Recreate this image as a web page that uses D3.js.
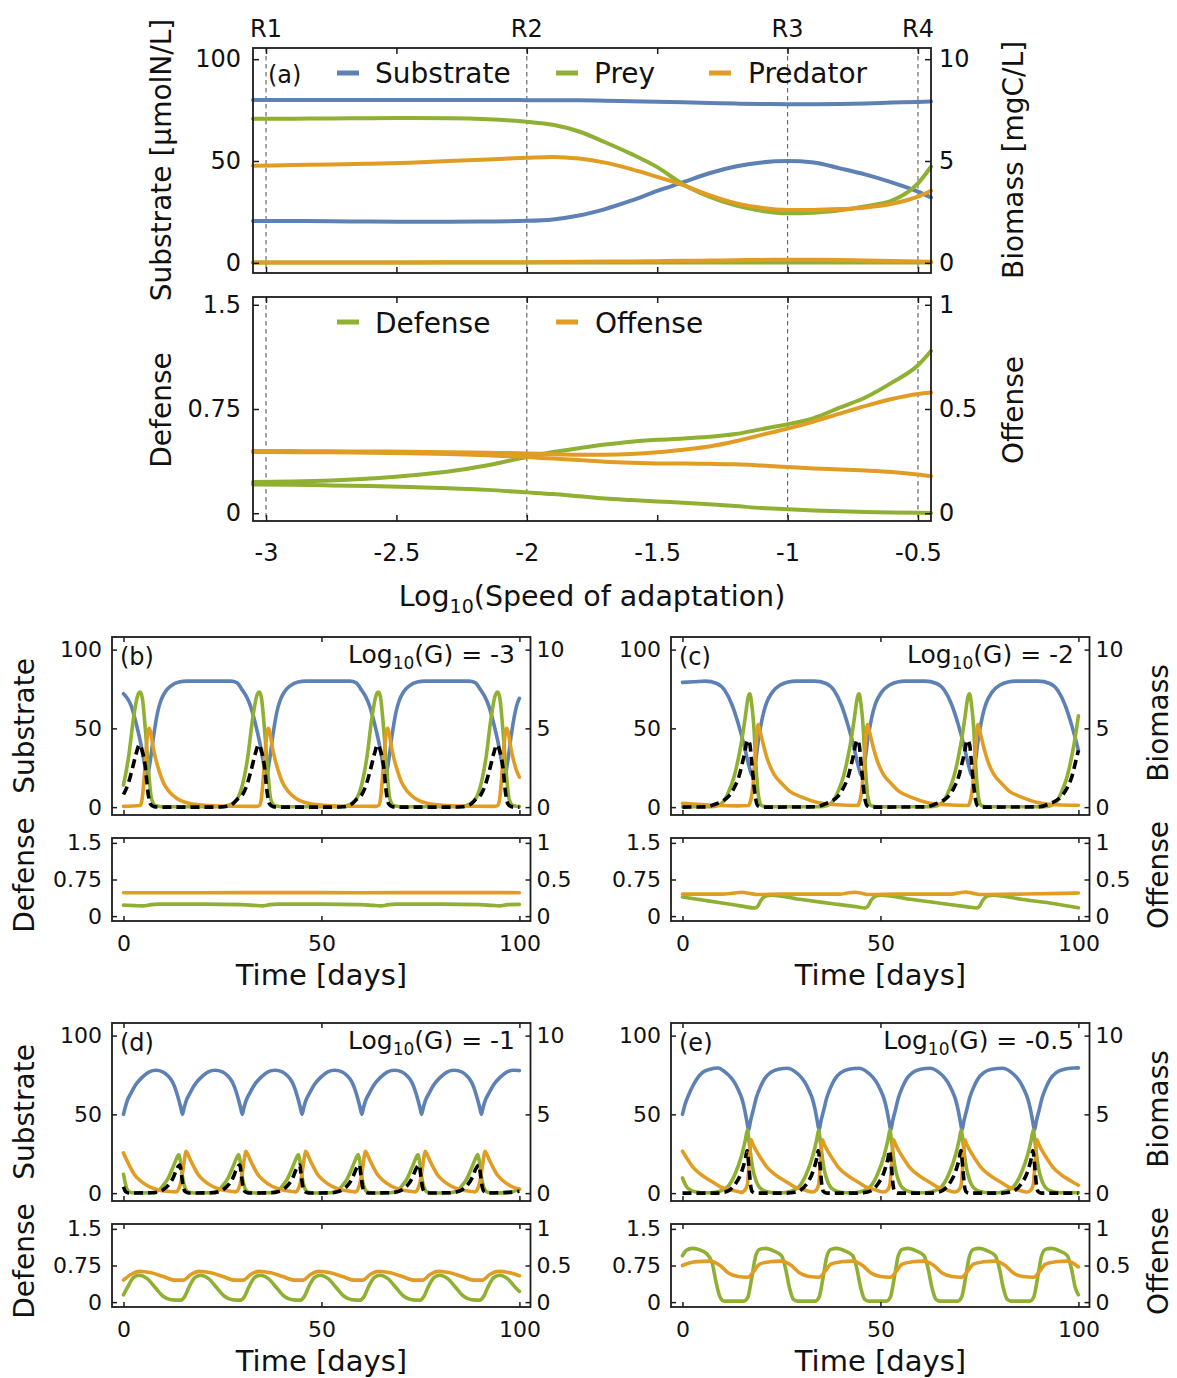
<!DOCTYPE html>
<html>
<head>
<meta charset="utf-8">
<script src="https://cdn.jsdelivr.net/npm/d3@7"></script>
<style>
  body { margin: 0; background: #fff; }
  svg text { font-family: "DejaVu Sans", Verdana, sans-serif; fill: #111; }
</style>
</head>
<body>
<script>
// ---------- Panel (a): bifurcation-style summary vs. log10 speed of adaptation ----------
const speedLog = [-3.05,-2.9,-2.75,-2.6,-2.45,-2.3,-2.15,-2.0,-1.9,-1.8,-1.7,-1.6,-1.5,-1.4,-1.3,-1.2,-1.1,-1.0,-0.9,-0.8,-0.7,-0.6,-0.5,-0.45];
const substrateMax = [80.0,80.0,80.0,80.0,80.0,80.0,80.0,79.9,79.9,79.8,79.6,79.4,79.1,78.8,78.5,78.2,78.0,77.9,77.9,78.0,78.3,78.7,79.0,79.2];
const substrateMin = [20.5,20.5,20.4,20.3,20.2,20.2,20.3,20.6,21.3,23.2,26.4,30.5,35.3,39.6,44.0,47.3,49.3,50.0,49.3,46.4,43.3,39.5,35.0,32.1];
const preyMax = [7.07,7.08,7.09,7.10,7.11,7.10,7.05,6.93,6.78,6.45,5.92,5.35,4.70,3.85,3.25,2.82,2.55,2.43,2.46,2.58,2.78,3.05,3.90,4.72];
const preyMin = [0.01,0.01,0.01,0.01,0.01,0.01,0.01,0.01,0.01,0.01,0.01,0.01,0.01,0.01,0.01,0.01,0.01,0.01,0.01,0.01,0.01,0.01,0.01,0.01];
const predatorMax = [4.77,4.80,4.83,4.87,4.92,5.00,5.08,5.16,5.20,5.12,4.92,4.60,4.22,3.82,3.32,2.93,2.70,2.60,2.60,2.64,2.72,2.90,3.25,3.54];
const predatorMin = [0.02,0.02,0.02,0.02,0.02,0.03,0.03,0.03,0.04,0.05,0.06,0.07,0.08,0.10,0.11,0.13,0.14,0.15,0.15,0.14,0.12,0.09,0.06,0.05];
const defenseMax = [0.224,0.228,0.236,0.250,0.272,0.300,0.345,0.405,0.440,0.468,0.494,0.515,0.528,0.537,0.550,0.570,0.605,0.640,0.685,0.760,0.835,0.940,1.065,1.168];
const defenseMin = [0.207,0.205,0.200,0.195,0.188,0.180,0.168,0.150,0.138,0.122,0.106,0.095,0.085,0.076,0.065,0.052,0.037,0.029,0.020,0.014,0.009,0.006,0.003,0.002];
const offenseMax = [0.298,0.298,0.297,0.296,0.295,0.293,0.290,0.287,0.283,0.281,0.281,0.284,0.292,0.305,0.320,0.345,0.376,0.406,0.440,0.478,0.515,0.548,0.572,0.579];
const offenseMin = [0.294,0.293,0.292,0.290,0.288,0.284,0.278,0.270,0.262,0.255,0.247,0.242,0.239,0.238,0.237,0.235,0.229,0.222,0.215,0.210,0.205,0.198,0.186,0.178];

const regimeLabels = ["R1","R2","R3","R4"];
const regimeSpeeds = [-3,-2,-1,-0.5];
const speedTicks = [-3,-2.5,-2,-1.5,-1,-0.5];

// ---------- Panels (b)-(e): time series, [day, value] ----------
const bSubstrate = [[0,72],[1,69],[2,64],[2.7,58],[3.5,50],[4.4,40],[5.2,29],[6.0,20],[6.8,30],[7.6,45],[8.6,60],[9.5,68],[10.5,73],[12,77],[14,79.5],[16,80],[27.1,80],[28.6,79],[30.1,74],[31.1,70],[32.1,64],[32.8,58],[33.6,50],[34.5,40],[35.3,29],[36.1,20],[36.9,30],[37.7,45],[38.7,60],[39.6,68],[40.6,73],[42.1,77],[44.1,79.5],[46.1,80],[57.2,80],[58.7,79],[60.2,74],[61.2,70],[62.2,64],[62.9,58],[63.7,50],[64.6,40],[65.4,29],[66.2,20],[67.0,30],[67.8,45],[68.8,60],[69.7,68],[70.7,73],[72.2,77],[74.2,79.5],[76.2,80],[87.3,80],[88.8,79],[90.3,74],[91.3,70],[92.3,64],[93.0,58],[93.8,50],[94.7,40],[95.5,29],[96.3,20],[97.1,30],[97.9,45],[98.9,60],[99.8,68],[100,69]];
const bPrey = [[0,1.4],[1.3,3.2],[2.5,5.6],[3.6,7.1],[4.2,7.3],[4.7,7.0],[5.5,5.0],[6.3,2.4],[7.1,0.5],[8.2,0.08],[10.2,0.02],[24.3,0.02],[26.3,0.1],[28.0,0.3],[29.7,1.1],[31.4,3.2],[32.6,5.6],[33.7,7.1],[34.3,7.3],[34.8,7.0],[35.6,5.0],[36.4,2.4],[37.2,0.5],[38.3,0.08],[40.3,0.02],[54.4,0.02],[56.4,0.1],[58.1,0.3],[59.8,1.1],[61.5,3.2],[62.7,5.6],[63.8,7.1],[64.4,7.3],[64.9,7.0],[65.7,5.0],[66.5,2.4],[67.3,0.5],[68.4,0.08],[70.4,0.02],[84.5,0.02],[86.5,0.1],[88.2,0.3],[89.9,1.1],[91.6,3.2],[92.8,5.6],[93.9,7.1],[94.5,7.3],[95.0,7.0],[95.8,5.0],[96.6,2.4],[97.4,0.5],[98.5,0.08],[100,0.03]];
const bPredator = [[0,0.05],[4.2,0.1],[4.7,0.5],[5.2,1.8],[5.7,3.6],[6.2,4.8],[6.5,5.0],[6.9,4.7],[7.5,3.8],[8.2,3.0],[9.0,2.3],[10.0,1.6],[11.5,1.0],[13.5,0.55],[16.5,0.25],[21.5,0.1],[26.5,0.06],[33.6,0.05],[34.3,0.1],[34.8,0.5],[35.3,1.8],[35.8,3.6],[36.3,4.8],[36.6,5.0],[37.0,4.7],[37.6,3.8],[38.3,3.0],[39.1,2.3],[40.1,1.6],[41.6,1.0],[43.6,0.55],[46.6,0.25],[51.6,0.1],[56.6,0.06],[63.7,0.05],[64.4,0.1],[64.9,0.5],[65.4,1.8],[65.9,3.6],[66.4,4.8],[66.7,5.0],[67.1,4.7],[67.7,3.8],[68.4,3.0],[69.2,2.3],[70.2,1.6],[71.7,1.0],[73.7,0.55],[76.7,0.25],[81.7,0.1],[86.7,0.06],[93.8,0.05],[94.5,0.1],[95.0,0.5],[95.5,1.8],[96.0,3.6],[96.5,4.8],[96.8,5.0],[97.2,4.7],[97.8,3.8],[98.5,3.0],[99.3,2.3],[100,1.9]];
const bDashed = [[0,0.8],[1.2,1.5],[2.2,2.4],[3.2,3.4],[4.0,3.95],[4.7,3.6],[5.5,2.6],[6.2,0.9],[6.8,0.2],[7.7,0.03],[9.2,0],[22.3,0],[25.3,0.02],[27.3,0.15],[28.8,0.5],[30.1,0.8],[31.3,1.5],[32.3,2.4],[33.3,3.4],[34.1,3.95],[34.8,3.6],[35.6,2.6],[36.3,0.9],[36.9,0.2],[37.8,0.03],[39.3,0],[52.4,0],[55.4,0.02],[57.4,0.15],[58.9,0.5],[60.2,0.8],[61.4,1.5],[62.4,2.4],[63.4,3.4],[64.2,3.95],[64.9,3.6],[65.7,2.6],[66.4,0.9],[67.0,0.2],[67.9,0.03],[69.4,0],[82.5,0],[85.5,0.02],[87.5,0.15],[89.0,0.5],[90.3,0.8],[91.5,1.5],[92.5,2.4],[93.5,3.4],[94.3,3.95],[95.0,3.6],[95.8,2.6],[96.5,0.9],[97.1,0.2],[98.0,0.03],[99.5,0],[100,0]];
const bDefense = [[0,0.225],[3,0.215],[5,0.21],[7,0.235],[9,0.245],[20,0.245],[30,0.235],[33,0.22],[35,0.21],[37,0.235],[39,0.245],[50,0.245],[60,0.235],[63,0.22],[65,0.21],[67,0.235],[69,0.245],[80,0.245],[90,0.235],[93,0.22],[95,0.21],[97,0.235],[100,0.24]];
const bOffense = [[0,0.32],[20,0.32],[40,0.321],[60,0.32],[80,0.321],[100,0.32]];

const cSubstrate = [[0,79.2],[3,79.6],[5.7,80],[8.7,78.5],[10.7,74],[12.5,65],[14.2,52],[15.7,38],[16.7,27],[17.7,20],[18.4,28],[19.2,43],[20.2,57],[21.2,66],[22.7,73],[24.7,77.5],[26.7,79.5],[28.7,80],[33.3,80],[36.3,78.5],[38.3,74],[40.1,65],[41.8,52],[43.3,38],[44.3,27],[45.3,20],[46.0,28],[46.8,43],[47.8,57],[48.8,66],[50.3,73],[52.3,77.5],[54.3,79.5],[56.3,80],[61.2,80],[64.2,78.5],[66.2,74],[68.0,65],[69.7,52],[71.2,38],[72.2,27],[73.2,20],[73.9,28],[74.7,43],[75.7,57],[76.7,66],[78.2,73],[80.2,77.5],[82.2,79.5],[84.2,80],[89.8,80],[92.8,78.5],[94.8,74],[96.6,65],[98.3,52],[99.8,38],[100,36]];
const cPrey = [[0,0.02],[7.0,0.02],[9.0,0.1],[10.5,0.4],[11.7,1.0],[13.0,1.9],[14.2,3.2],[15.2,4.6],[15.9,5.8],[16.6,7.0],[17.0,7.2],[17.5,6.5],[18.0,5.2],[18.5,2.9],[19.2,0.7],[20.0,0.1],[21.5,0.02],[34.6,0.02],[36.6,0.1],[38.1,0.4],[39.3,1.0],[40.6,1.9],[41.8,3.2],[42.8,4.6],[43.5,5.8],[44.2,7.0],[44.6,7.2],[45.1,6.5],[45.6,5.2],[46.1,2.9],[46.8,0.7],[47.6,0.1],[49.1,0.02],[62.5,0.02],[64.5,0.1],[66.0,0.4],[67.2,1.0],[68.5,1.9],[69.7,3.2],[70.7,4.6],[71.4,5.8],[72.1,7.0],[72.5,7.2],[73.0,6.5],[73.5,5.2],[74.0,2.9],[74.7,0.7],[75.5,0.1],[77.0,0.02],[91.1,0.02],[93.1,0.1],[94.6,0.4],[95.8,1.0],[97.1,1.9],[98.3,3.2],[99.3,4.6],[100,5.8]];
const cPredator = [[0,0.25],[8,0.12],[14,0.08],[16.6,0.1],[17.3,0.5],[17.9,1.6],[18.5,3.6],[18.9,5.0],[19.1,5.25],[19.5,4.9],[20.1,4.3],[20.8,3.6],[21.8,2.8],[23.1,2.1],[25.1,1.5],[27.1,1.0],[30.1,0.64],[34.1,0.3],[39.1,0.15],[44.2,0.1],[44.9,0.5],[45.5,1.6],[46.1,3.6],[46.5,5.0],[46.7,5.25],[47.1,4.9],[47.7,4.3],[48.4,3.6],[49.4,2.8],[50.7,2.1],[52.7,1.5],[54.7,1.0],[57.7,0.64],[61.7,0.3],[66.7,0.15],[72.1,0.1],[72.8,0.5],[73.4,1.6],[74.0,3.6],[74.4,5.0],[74.6,5.25],[75.0,4.9],[75.6,4.3],[76.3,3.6],[77.3,2.8],[78.6,2.1],[80.6,1.5],[82.6,1.0],[85.6,0.64],[89.6,0.3],[94.6,0.15],[100,0.12]];
const cDashed = [[0,0],[6.0,0.02],[8.4,0.2],[10.2,0.4],[11.7,0.7],[13.0,1.2],[14.2,1.9],[15.5,3.2],[16.5,4.25],[17.0,4.0],[17.5,2.8],[18.0,1.5],[18.5,0.5],[19.0,0.1],[20.0,0],[33.6,0.02],[36.0,0.2],[37.8,0.4],[39.3,0.7],[40.6,1.2],[41.8,1.9],[43.1,3.2],[44.1,4.25],[44.6,4.0],[45.1,2.8],[45.6,1.5],[46.1,0.5],[46.6,0.1],[47.6,0],[61.5,0.02],[63.9,0.2],[65.7,0.4],[67.2,0.7],[68.5,1.2],[69.7,1.9],[71.0,3.2],[72.0,4.25],[72.5,4.0],[73.0,2.8],[73.5,1.5],[74.0,0.5],[74.5,0.1],[75.5,0],[90.1,0.02],[92.5,0.2],[94.3,0.4],[95.8,0.7],[97.1,1.2],[98.3,1.9],[99.6,3.2],[100,3.6]];
const cDefense = [[0,0.39],[5,0.33],[10,0.27],[15,0.205],[18.3,0.165],[19,0.2],[19.8,0.32],[21,0.41],[22.5,0.43],[30,0.34],[38,0.255],[44,0.19],[46,0.165],[46.8,0.2],[47.6,0.32],[48.8,0.41],[50.3,0.43],[58,0.34],[66,0.255],[72,0.19],[74.3,0.165],[75,0.2],[75.8,0.32],[77,0.41],[78.5,0.43],[86,0.34],[94,0.255],[100,0.17]];
const cOffense = [[0,0.3],[10,0.3],[13,0.315],[15,0.325],[17,0.31],[19,0.295],[25,0.3],[40,0.3],[42,0.32],[43.5,0.325],[45.5,0.31],[47,0.295],[55,0.3],[68,0.3],[70,0.32],[71.5,0.33],[73.5,0.31],[75,0.295],[85,0.3],[96,0.31],[100,0.315]];

const dSubstrate = [[0,50],[0.4,54],[1,59],[1.9,63.5],[3,68.5],[4.7,73.5],[6.5,77],[8.2,78],[9.9,77],[11.2,74.5],[12.4,70.5],[13.0,67],[13.7,61.5],[14.4,55],[14.9,50],[15.3,54],[15.9,59],[16.8,63.5],[17.9,68.5],[19.6,73.5],[21.4,77],[23.1,78],[25.0,77],[26.3,74.5],[27.5,70.5],[28.1,67],[28.8,61.5],[29.5,55],[30.0,50],[30.4,54],[31.0,59],[31.9,63.5],[33.0,68.5],[34.7,73.5],[36.5,77],[38.2,78],[40.1,77],[41.4,74.5],[42.6,70.5],[43.2,67],[43.9,61.5],[44.6,55],[45.1,50],[45.5,54],[46.1,59],[47.0,63.5],[48.1,68.5],[49.8,73.5],[51.6,77],[53.3,78],[55.2,77],[56.5,74.5],[57.7,70.5],[58.3,67],[59.0,61.5],[59.7,55],[60.2,50],[60.6,54],[61.2,59],[62.1,63.5],[63.2,68.5],[64.9,73.5],[66.7,77],[68.4,78],[70.3,77],[71.6,74.5],[72.8,70.5],[73.4,67],[74.1,61.5],[74.8,55],[75.3,50],[75.7,54],[76.3,59],[77.2,63.5],[78.3,68.5],[80.0,73.5],[81.8,77],[83.5,78],[85.4,77],[86.7,74.5],[87.9,70.5],[88.5,67],[89.2,61.5],[89.9,55],[90.4,50],[90.8,54],[91.4,59],[92.3,63.5],[93.4,68.5],[95.1,73.5],[96.9,77],[98.6,78],[100,77.8]];
const dPrey = [[0,1.2],[0.4,0.7],[0.8,0.3],[1.5,0.07],[3,0.01],[7.0,0.02],[9.0,0.2],[10.2,0.55],[11.2,0.9],[12.1,1.4],[13.0,1.95],[13.6,2.3],[14.0,2.45],[14.4,2.0],[14.7,1.4],[15.0,0.9],[15.3,0.53],[15.8,0.2],[16.5,0.05],[18.0,0.01],[22.1,0.02],[24.1,0.2],[25.3,0.55],[26.3,0.9],[27.2,1.4],[28.1,1.95],[28.7,2.3],[29.1,2.45],[29.5,2.0],[29.8,1.4],[30.1,0.9],[30.4,0.53],[30.9,0.2],[31.6,0.05],[33.1,0.01],[37.2,0.02],[39.2,0.2],[40.4,0.55],[41.4,0.9],[42.3,1.4],[43.2,1.95],[43.8,2.3],[44.2,2.45],[44.6,2.0],[44.9,1.4],[45.2,0.9],[45.5,0.53],[46.0,0.2],[46.7,0.05],[48.2,0.01],[52.3,0.02],[54.3,0.2],[55.5,0.55],[56.5,0.9],[57.4,1.4],[58.3,1.95],[58.9,2.3],[59.3,2.45],[59.7,2.0],[60.0,1.4],[60.3,0.9],[60.6,0.53],[61.1,0.2],[61.8,0.05],[63.3,0.01],[67.4,0.02],[69.4,0.2],[70.6,0.55],[71.6,0.9],[72.5,1.4],[73.4,1.95],[74.0,2.3],[74.4,2.45],[74.8,2.0],[75.1,1.4],[75.4,0.9],[75.7,0.53],[76.2,0.2],[76.9,0.05],[78.4,0.01],[82.5,0.02],[84.5,0.2],[85.7,0.55],[86.7,0.9],[87.6,1.4],[88.5,1.95],[89.1,2.3],[89.5,2.45],[89.9,2.0],[90.2,1.4],[90.5,0.9],[90.8,0.53],[91.3,0.2],[92.0,0.05],[93.5,0.01],[97.5,0.05],[100,0.25]];
const dPredator = [[0,2.55],[0.9,2.05],[1.7,1.65],[2.7,1.2],[4.2,0.8],[6.2,0.45],[8.7,0.22],[11.7,0.1],[13.3,0.08],[14.0,0.3],[14.5,0.7],[15.1,1.6],[15.5,2.3],[15.8,2.65],[16.3,2.45],[17.0,2.05],[17.8,1.65],[18.8,1.2],[20.3,0.8],[22.3,0.45],[24.8,0.22],[27.8,0.1],[28.4,0.08],[29.1,0.3],[29.6,0.7],[30.2,1.6],[30.6,2.3],[30.9,2.65],[31.4,2.45],[32.1,2.05],[32.9,1.65],[33.9,1.2],[35.4,0.8],[37.4,0.45],[39.9,0.22],[42.9,0.1],[43.5,0.08],[44.2,0.3],[44.7,0.7],[45.3,1.6],[45.7,2.3],[46.0,2.65],[46.5,2.45],[47.2,2.05],[48.0,1.65],[49.0,1.2],[50.5,0.8],[52.5,0.45],[55.0,0.22],[58.0,0.1],[58.6,0.08],[59.3,0.3],[59.8,0.7],[60.4,1.6],[60.8,2.3],[61.1,2.65],[61.6,2.45],[62.3,2.05],[63.1,1.65],[64.1,1.2],[65.6,0.8],[67.6,0.45],[70.1,0.22],[73.1,0.1],[73.7,0.08],[74.4,0.3],[74.9,0.7],[75.5,1.6],[75.9,2.3],[76.2,2.65],[76.7,2.45],[77.4,2.05],[78.2,1.65],[79.2,1.2],[80.7,0.8],[82.7,0.45],[85.2,0.22],[88.2,0.1],[88.8,0.08],[89.5,0.3],[90.0,0.7],[90.6,1.6],[91.0,2.3],[91.3,2.65],[91.8,2.45],[92.5,2.05],[93.3,1.65],[94.3,1.2],[95.8,0.8],[97.8,0.45],[100,0.25]];
const dDashed = [[0,0.4],[0.5,0.1],[1.4,0.01],[7.0,0.02],[9.0,0.1],[10.2,0.25],[11.5,0.55],[12.6,1.0],[13.4,1.5],[14.0,1.75],[14.3,1.78],[14.7,1.1],[15.1,0.4],[15.6,0.1],[16.5,0.01],[22.1,0.02],[24.1,0.1],[25.3,0.25],[26.6,0.55],[27.7,1.0],[28.5,1.5],[29.1,1.75],[29.4,1.78],[29.8,1.1],[30.2,0.4],[30.7,0.1],[31.6,0.01],[37.2,0.02],[39.2,0.1],[40.4,0.25],[41.7,0.55],[42.8,1.0],[43.6,1.5],[44.2,1.75],[44.5,1.78],[44.9,1.1],[45.3,0.4],[45.8,0.1],[46.7,0.01],[52.3,0.02],[54.3,0.1],[55.5,0.25],[56.8,0.55],[57.9,1.0],[58.7,1.5],[59.3,1.75],[59.6,1.78],[60.0,1.1],[60.4,0.4],[60.9,0.1],[61.8,0.01],[67.4,0.02],[69.4,0.1],[70.6,0.25],[71.9,0.55],[73.0,1.0],[73.8,1.5],[74.4,1.75],[74.7,1.78],[75.1,1.1],[75.5,0.4],[76.0,0.1],[76.9,0.01],[82.5,0.02],[84.5,0.1],[85.7,0.25],[87.0,0.55],[88.1,1.0],[88.9,1.5],[89.5,1.75],[89.8,1.78],[90.2,1.1],[90.6,0.4],[91.1,0.1],[92.0,0.01],[97.5,0.05],[100,0.12]];
const dDefense = [[0,0.15],[1,0.3],[2.5,0.5],[4,0.55],[6,0.48],[8,0.3],[10,0.12],[12,0.05],[14.5,0.04],[15.5,0.12],[16.5,0.3],[18,0.5],[19.5,0.55],[21.5,0.48],[23.5,0.3],[25.5,0.12],[27.5,0.05],[29.6,0.04],[30.6,0.12],[31.6,0.3],[33.1,0.5],[34.6,0.55],[36.6,0.48],[38.6,0.3],[40.6,0.12],[42.6,0.05],[44.7,0.04],[45.7,0.12],[46.7,0.3],[48.2,0.5],[49.7,0.55],[51.7,0.48],[53.7,0.3],[55.7,0.12],[57.7,0.05],[59.8,0.04],[60.8,0.12],[61.8,0.3],[63.3,0.5],[64.8,0.55],[66.8,0.48],[68.8,0.3],[70.8,0.12],[72.8,0.05],[74.9,0.04],[75.9,0.12],[76.9,0.3],[78.4,0.5],[79.9,0.55],[81.9,0.48],[83.9,0.3],[85.9,0.12],[87.9,0.05],[90,0.04],[91,0.12],[92,0.3],[93.5,0.5],[95,0.55],[97,0.48],[99,0.3],[100,0.22]];
const dOffense = [[0,0.3],[2,0.38],[4,0.42],[7,0.4],[10,0.35],[13,0.3],[15.1,0.3],[17.1,0.38],[19.1,0.42],[22.1,0.4],[25.1,0.35],[28.1,0.3],[30.2,0.3],[32.2,0.38],[34.2,0.42],[37.2,0.4],[40.2,0.35],[43.2,0.3],[45.3,0.3],[47.3,0.38],[49.3,0.42],[52.3,0.4],[55.3,0.35],[58.3,0.3],[60.4,0.3],[62.4,0.38],[64.4,0.42],[67.4,0.4],[70.4,0.35],[73.4,0.3],[75.5,0.3],[77.5,0.38],[79.5,0.42],[82.5,0.4],[85.5,0.35],[88.5,0.3],[90.6,0.3],[92.6,0.38],[94.6,0.42],[97.6,0.4],[100,0.36]];

const eSubstrate = [[0,50],[0.6,56],[1.5,62],[2.5,67.5],[3.5,72],[5,76.5],[7,78.7],[9,79.4],[10.7,77],[12.2,73.5],[13.2,70],[14.2,65],[15.0,60],[15.7,53],[16.3,45],[16.7,40],[17.2,46],[17.8,52],[18.7,61],[19.6,67],[20.7,72.5],[22.2,76.5],[24.2,78.7],[26.5,79.3],[28.5,77],[30.0,73.5],[31.0,70],[32.0,65],[32.8,60],[33.5,53],[34.1,45],[34.5,40],[35.0,46],[35.6,52],[36.5,61],[37.4,67],[38.5,72.5],[40.0,76.5],[42.0,78.7],[44.6,79.3],[46.6,77],[48.1,73.5],[49.1,70],[50.1,65],[50.9,60],[51.6,53],[52.2,45],[52.6,40],[53.1,46],[53.7,52],[54.6,61],[55.5,67],[56.6,72.5],[58.1,76.5],[60.1,78.7],[62.6,79.3],[64.6,77],[66.1,73.5],[67.1,70],[68.1,65],[68.9,60],[69.6,53],[70.2,45],[70.6,40],[71.1,46],[71.7,52],[72.6,61],[73.5,67],[74.6,72.5],[76.1,76.5],[78.1,78.7],[80.9,79.3],[82.9,77],[84.4,73.5],[85.4,70],[86.4,65],[87.2,60],[87.9,53],[88.5,45],[88.9,40],[89.4,46],[90.0,52],[90.9,61],[91.8,67],[92.9,72.5],[94.4,76.5],[96.4,78.7],[98.9,79.4],[100,79.5]];
const ePrey = [[0,0.96],[0.6,0.6],[1.3,0.32],[3.1,0.08],[5.1,0.02],[7.4,0.02],[9.4,0.12],[11.4,0.4],[13.2,1.17],[15.0,2.45],[15.9,3.4],[16.4,4.0],[16.8,3.3],[17.3,2.3],[17.8,1.5],[18.3,1.0],[18.9,0.6],[19.6,0.32],[21.4,0.08],[23.4,0.02],[25.4,0.02],[27.4,0.12],[29.4,0.4],[31.2,1.17],[33.0,2.45],[33.9,3.4],[34.4,4.0],[34.8,3.3],[35.3,2.3],[35.8,1.5],[36.3,1.0],[36.9,0.6],[37.6,0.32],[39.4,0.08],[41.4,0.02],[43.4,0.02],[45.4,0.12],[47.4,0.4],[49.2,1.17],[51.0,2.45],[51.9,3.4],[52.4,4.0],[52.8,3.3],[53.3,2.3],[53.8,1.5],[54.3,1.0],[54.9,0.6],[55.6,0.32],[57.4,0.08],[59.4,0.02],[61.4,0.02],[63.4,0.12],[65.4,0.4],[67.2,1.17],[69.0,2.45],[69.9,3.4],[70.4,4.0],[70.8,3.3],[71.3,2.3],[71.8,1.5],[72.3,1.0],[72.9,0.6],[73.6,0.32],[75.4,0.08],[77.4,0.02],[79.6,0.02],[81.6,0.12],[83.6,0.4],[85.4,1.17],[87.2,2.45],[88.1,3.4],[88.6,4.0],[89.0,3.3],[89.5,2.3],[90.0,1.5],[90.5,1.0],[91.1,0.6],[91.8,0.32],[93.6,0.08],[95.6,0.02],[100,0.03]];
const ePredator = [[0,2.66],[1.4,2.1],[2.8,1.6],[5.1,1.1],[7.4,0.74],[9.6,0.4],[12.1,0.2],[14.1,0.1],[14.8,0.05],[15.8,0.2],[16.4,0.55],[16.85,2.0],[17.3,3.4],[17.7,3.15],[18.7,2.66],[20.1,2.1],[21.5,1.6],[23.8,1.1],[26.1,0.74],[28.3,0.4],[30.8,0.2],[32.8,0.07],[33.8,0.2],[34.4,0.55],[34.85,2.0],[35.3,3.4],[35.7,3.15],[36.7,2.66],[38.1,2.1],[39.5,1.6],[41.8,1.1],[44.1,0.74],[46.3,0.4],[48.8,0.2],[50.8,0.07],[51.8,0.2],[52.4,0.55],[52.85,2.0],[53.3,3.4],[53.7,3.15],[54.7,2.66],[56.1,2.1],[57.5,1.6],[59.8,1.1],[62.1,0.74],[64.3,0.4],[66.8,0.2],[68.8,0.07],[69.8,0.2],[70.4,0.55],[70.85,2.0],[71.3,3.4],[71.7,3.15],[72.7,2.66],[74.1,2.1],[75.5,1.6],[77.8,1.1],[80.1,0.74],[82.3,0.4],[84.8,0.2],[87.0,0.07],[88.0,0.2],[88.6,0.55],[89.05,2.0],[89.5,3.4],[89.9,3.15],[90.9,2.66],[92.3,2.1],[93.7,1.6],[96.0,1.1],[98.3,0.74],[100,0.5]];
const eDashed = [[0,0],[8.4,0],[10.4,0.05],[11.9,0.2],[13.2,0.53],[15.0,1.4],[15.9,2.2],[16.3,2.7],[16.8,1.6],[17.2,0.5],[17.6,0.1],[18.4,0],[26.4,0],[28.4,0.05],[29.9,0.2],[31.2,0.53],[33.0,1.4],[33.9,2.2],[34.3,2.7],[34.8,1.6],[35.2,0.5],[35.6,0.1],[36.4,0],[44.4,0],[46.4,0.05],[47.9,0.2],[49.2,0.53],[51.0,1.4],[51.9,2.2],[52.3,2.7],[52.8,1.6],[53.2,0.5],[53.6,0.1],[54.4,0],[62.4,0],[64.4,0.05],[65.9,0.2],[67.2,0.53],[69.0,1.4],[69.9,2.2],[70.3,2.7],[70.8,1.6],[71.2,0.5],[71.6,0.1],[72.4,0],[80.6,0],[82.6,0.05],[84.1,0.2],[85.4,0.53],[87.2,1.4],[88.1,2.2],[88.5,2.7],[89.0,1.6],[89.4,0.5],[89.8,0.1],[90.6,0],[100,0]];
const eDefense = [[0,0.95],[1,1.06],[2.5,1.1],[4,1.08],[6,1.0],[7.5,0.8],[8.5,0.4],[9.5,0.1],[10.5,0.02],[15.5,0.02],[16.5,0.1],[17.5,0.5],[18.5,0.95],[19.5,1.08],[21,1.1],[23,1.05],[25,0.95],[26,0.7],[27,0.3],[28,0.06],[29,0.02],[33.5,0.02],[34.5,0.1],[35.5,0.5],[36.5,0.95],[37.5,1.08],[39,1.1],[41,1.05],[43,0.95],[44,0.7],[45,0.3],[46,0.06],[47,0.02],[51.5,0.02],[52.5,0.1],[53.5,0.5],[54.5,0.95],[55.5,1.08],[57,1.1],[59,1.05],[61,0.95],[62,0.7],[63,0.3],[64,0.06],[65,0.02],[69.5,0.02],[70.5,0.1],[71.5,0.5],[72.5,0.95],[73.5,1.08],[75,1.1],[77,1.05],[79,0.95],[80,0.7],[81,0.3],[82,0.06],[83,0.02],[87.7,0.02],[88.7,0.1],[89.7,0.5],[90.7,0.95],[91.7,1.08],[93.2,1.1],[95.2,1.05],[97.2,0.95],[98.2,0.7],[99.2,0.3],[100,0.15]];
const eOffense = [[0,0.5],[3,0.55],[7,0.56],[9.5,0.5],[11.5,0.4],[14,0.35],[16.5,0.34],[18,0.42],[19.5,0.52],[22,0.55],[25,0.56],[27.5,0.5],[29.5,0.4],[32,0.35],[34.5,0.34],[36,0.42],[37.5,0.52],[40,0.55],[43,0.56],[45.5,0.5],[47.5,0.4],[50,0.35],[52.5,0.34],[54,0.42],[55.5,0.52],[58,0.55],[61,0.56],[63.5,0.5],[65.5,0.4],[68,0.35],[70.5,0.34],[72,0.42],[73.5,0.52],[76,0.55],[79,0.56],[81.5,0.5],[83.5,0.4],[86,0.35],[88.7,0.34],[90.2,0.42],[91.7,0.52],[94.2,0.55],[97.2,0.56],[100,0.48]];

const panelTags = ["(b)","(c)","(d)","(e)"];
const panelLogG = ["-3","-2","-1","-0.5"];
const timeTicks = [0,50,100];

// ---------- drawing ----------
const COL_SUB = "#5E81B5", COL_PREY = "#8FB032", COL_PRED = "#E19C24";
const INK = "#1c1c1c";
const svg = d3.select("body").append("svg").attr("width",1177).attr("height",1378);
const fmt = d => String(d);

function styleAxis(sel, fs) {
  sel.attr("font-family", null).attr("font-size", fs);
  sel.select(".domain").remove();
  sel.selectAll(".tick line").attr("stroke", INK).attr("stroke-width", 1.5);
  sel.selectAll(".tick text").attr("fill", "#111");
}

// Framed plot box with inward ticks on all four sides
function framedBox(x, yL, yR, o) {
  const g = svg.append("g");
  const [xa, xb] = x.range();
  const [yb, ya] = yL.range();
  g.append("g").attr("transform", `translate(${xa},0)`)
    .call(d3.axisLeft(yL).tickValues(o.yLTicks).tickSize(-o.tl).tickPadding(o.padL).tickFormat(fmt))
    .call(styleAxis, o.fs);
  g.append("g").attr("transform", `translate(${xb},0)`)
    .call(d3.axisRight(yR).tickValues(o.yRTicks).tickSize(-o.tl).tickPadding(o.padR).tickFormat(fmt))
    .call(styleAxis, o.fs);
  g.append("g").attr("transform", `translate(0,${yb})`)
    .call(d3.axisBottom(x).tickValues(o.xTicks).tickSize(-o.tl).tickPadding(o.padB).tickFormat(o.xLabels ? fmt : () => ""))
    .call(styleAxis, o.fs);
  g.append("g").attr("transform", `translate(0,${ya})`)
    .call(d3.axisTop(x).tickValues(o.xTicks).tickSize(-o.tl).tickFormat(() => ""))
    .call(styleAxis, o.fs);
  g.append("rect").attr("x", xa).attr("y", ya).attr("width", xb - xa).attr("height", yb - ya)
    .attr("fill", "none").attr("stroke", INK).attr("stroke-width", 1.8);
  return g;
}

function drawSeries(g, pts, x, y, color, width, dash) {
  const gen = d3.line().x(d => x(d[0])).y(d => y(d[1])).curve(d3.curveMonotoneX);
  const p = g.append("path").attr("d", gen(pts)).attr("fill", "none")
    .attr("stroke", color).attr("stroke-width", width)
    .attr("stroke-linejoin", "round").attr("stroke-linecap", dash ? "butt" : "round");
  if (dash) p.attr("stroke-dasharray", dash);
}

function rotLabel(x, y, txt, fs) {
  svg.append("text").attr("transform", `translate(${x},${y}) rotate(-90)`)
    .attr("text-anchor", "middle").attr("font-size", fs).text(txt);
}

// ----- Panel (a) -----
(function panelA() {
  const x = d3.scaleLinear([-3.05, -0.45], [253, 931]);
  const yS = d3.scaleLinear([-5, 105.5], [273, 48]);
  const yB = d3.scaleLinear([-0.5, 10.55], [273, 48]);
  const yD = d3.scaleLinear([-0.056, 1.556], [521, 297]);
  const yO = d3.scaleLinear([-0.056 / 1.5, 1.556 / 1.5], [521, 297]);
  const common = {xTicks: speedTicks, tl: 6, padL: 12, padR: 8, padB: 23, fs: 24};

  const plot = svg.append("g");
  // regime marker lines
  regimeSpeeds.forEach(s => {
    [[48, 273], [297, 521]].forEach(([t, b]) => {
      plot.append("line").attr("x1", x(s)).attr("x2", x(s)).attr("y1", t).attr("y2", b)
        .attr("stroke", "#6a6a6a").attr("stroke-width", 1.2).attr("stroke-dasharray", "4.5,3.5");
    });
  });
  const pair = (arr) => speedLog.map((s, i) => [s, arr[i]]);
  drawSeries(plot, pair(substrateMax), x, yS, COL_SUB, 4);
  drawSeries(plot, pair(substrateMin), x, yS, COL_SUB, 4);
  drawSeries(plot, pair(preyMin), x, yB, COL_PREY, 4);
  drawSeries(plot, pair(preyMax), x, yB, COL_PREY, 4);
  drawSeries(plot, pair(predatorMin), x, yB, COL_PRED, 4);
  drawSeries(plot, pair(predatorMax), x, yB, COL_PRED, 4);
  drawSeries(plot, pair(defenseMax), x, yD, COL_PREY, 4);
  drawSeries(plot, pair(defenseMin), x, yD, COL_PREY, 4);
  drawSeries(plot, pair(offenseMax), x, yO, COL_PRED, 4);
  drawSeries(plot, pair(offenseMin), x, yO, COL_PRED, 4);

  framedBox(x, yS, yB, Object.assign({yLTicks: [0, 50, 100], yRTicks: [0, 5, 10], xLabels: false}, common));
  framedBox(x, yD, yO, Object.assign({yLTicks: [0, 0.75, 1.5], yRTicks: [0, 0.5, 1], xLabels: true}, common));

  regimeSpeeds.forEach((s, i) => {
    svg.append("text").attr("x", x(s)).attr("y", 37).attr("text-anchor", "middle")
      .attr("font-size", 24).text(regimeLabels[i]);
  });

  svg.append("text").attr("x", 268).attr("y", 83).attr("font-size", 24).text("(a)");
  const legTop = [["Substrate", COL_SUB, 337, 375], ["Prey", COL_PREY, 556, 594], ["Predator", COL_PRED, 709, 748]];
  legTop.forEach(([t, c, lx, tx]) => {
    svg.append("line").attr("x1", lx).attr("x2", lx + 22).attr("y1", 73).attr("y2", 73)
      .attr("stroke", c).attr("stroke-width", 5);
    svg.append("text").attr("x", tx).attr("y", 83).attr("font-size", 28).text(t);
  });
  const legBot = [["Defense", COL_PREY, 337, 375], ["Offense", COL_PRED, 556, 595]];
  legBot.forEach(([t, c, lx, tx]) => {
    svg.append("line").attr("x1", lx).attr("x2", lx + 22).attr("y1", 322).attr("y2", 322)
      .attr("stroke", c).attr("stroke-width", 5);
    svg.append("text").attr("x", tx).attr("y", 333).attr("font-size", 28).text(t);
  });

  rotLabel(171, 160, "Substrate [μmolN/L]", 28);
  rotLabel(1023, 160, "Biomass [mgC/L]", 28);
  rotLabel(171, 410, "Defense", 28);
  rotLabel(1023, 410, "Offense", 28);

  const xt = svg.append("text").attr("x", 592).attr("y", 606).attr("text-anchor", "middle").attr("font-size", 28.5);
  xt.append("tspan").text("Log");
  xt.append("tspan").attr("font-size", 19).attr("dy", 7).text("10");
  xt.append("tspan").attr("dy", -7).text("(Speed of adaptation)");
})();

// ----- Panels (b)-(e) -----
const panels = [
  {x0: 112, y0: 637, yb: 838, sub: bSubstrate, prey: bPrey, pred: bPredator, dash: bDashed, def: bDefense, off: bOffense, left: true},
  {x0: 671, y0: 637, yb: 838, sub: cSubstrate, prey: cPrey, pred: cPredator, dash: cDashed, def: cDefense, off: cOffense, left: false},
  {x0: 112, y0: 1023, yb: 1224, sub: dSubstrate, prey: dPrey, pred: dPredator, dash: dDashed, def: dDefense, off: dOffense, left: true},
  {x0: 671, y0: 1023, yb: 1224, sub: eSubstrate, prey: ePrey, pred: ePredator, dash: eDashed, def: eDefense, off: eOffense, left: false}
];

panels.forEach((p, i) => {
  const x = d3.scaleLinear([-2.9, 102.8], [p.x0, p.x0 + 418.5]);
  const yS = d3.scaleLinear([-5, 108], [p.y0 + 178, p.y0]);
  const yB = d3.scaleLinear([-0.5, 10.8], [p.y0 + 178, p.y0]);
  const yD = d3.scaleLinear([-0.1, 1.6], [p.yb + 83, p.yb]);
  const yO = d3.scaleLinear([-0.1 / 1.5, 1.6 / 1.5], [p.yb + 83, p.yb]);
  const common = {xTicks: timeTicks, tl: 5, padL: 10, padR: 6, padB: 14, fs: 22};

  const g = svg.append("g");
  drawSeries(g, p.sub, x, yS, COL_SUB, 3.6);
  drawSeries(g, p.prey, x, yB, COL_PREY, 3.6);
  drawSeries(g, p.pred, x, yB, COL_PRED, 3.6);
  drawSeries(g, p.dash, x, yB, "#000", 3.6, "9,5");
  drawSeries(g, p.def, x, yD, COL_PREY, 3.6);
  drawSeries(g, p.off, x, yO, COL_PRED, 3.6);

  framedBox(x, yS, yB, Object.assign({yLTicks: [0, 50, 100], yRTicks: [0, 5, 10], xLabels: false}, common));
  framedBox(x, yD, yO, Object.assign({yLTicks: [0, 0.75, 1.5], yRTicks: [0, 0.5, 1], xLabels: true}, common));

  svg.append("text").attr("x", p.x0 + 8).attr("y", p.y0 + 28).attr("font-size", 24).text(panelTags[i]);
  const lg = svg.append("text").attr("x", p.x0 + 403).attr("y", p.y0 + 26).attr("text-anchor", "end").attr("font-size", 25);
  lg.append("tspan").text("Log");
  lg.append("tspan").attr("font-size", 17).attr("dy", 6).text("10");
  lg.append("tspan").attr("dy", -6).text("(G) = " + panelLogG[i]);

  svg.append("text").attr("x", x(50)).attr("y", p.yb + 147).attr("text-anchor", "middle")
    .attr("font-size", 29).text("Time [days]");
  if (p.left) {
    rotLabel(34, p.y0 + 89, "Substrate", 28);
    rotLabel(34, p.yb + 37, "Defense", 28);
  } else {
    rotLabel(1168, p.y0 + 86, "Biomass", 28);
    rotLabel(1168, p.yb + 37, "Offense", 28);
  }
});
</script>
</body>
</html>
